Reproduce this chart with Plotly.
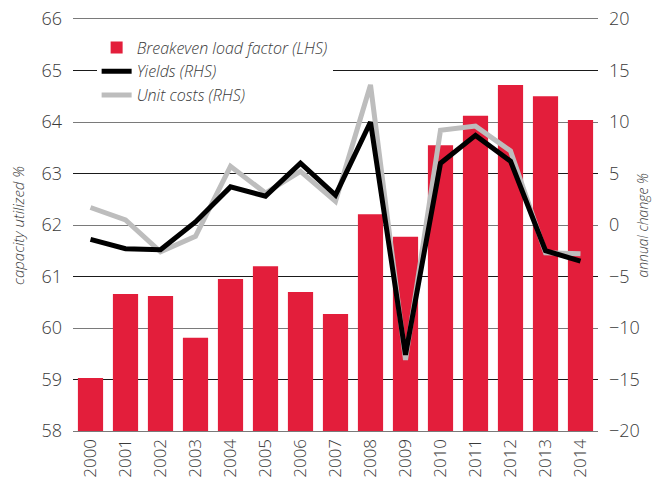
import plotly.graph_objects as go

years = [str(y) for y in range(2000, 2015)]
breakeven_lf = [59.03, 60.66, 60.62, 59.81, 60.95, 61.20, 60.70, 60.27,
                62.21, 61.77, 63.55, 64.12, 64.72, 64.50, 64.04]
yields = [-1.4, -2.3, -2.4, 0.3, 3.7, 2.8, 6.0, 2.9,
          10.0, -12.6, 6.0, 8.7, 6.2, -2.5, -3.5]
unit_costs = [1.7, 0.5, -2.6, -1.1, 5.7, 3.1, 5.2, 2.3,
              13.6, -13.1, 9.2, 9.6, 7.2, -2.7, -2.8]

left_ticks = list(range(58, 67))
right_even_ticks = [-20, -10, 0, 10, 20]
right_odd_ticks = [-15, -5, 5, 15]

FONT = "Open Sans"
TXT = "#3a3a3a"
TICKFONT = dict(size=18, color=TXT, family=FONT, weight=300)
GRAY_GRID = "#7a7a7a"

fig = go.Figure()
fig.add_trace(go.Bar(
    x=years, y=breakeven_lf, name="Breakeven load factor (LHS)",
    marker=dict(color="#E31E3B", line=dict(width=0)),
    width=0.72, yaxis="y", legendrank=1,
))
fig.add_trace(go.Scatter(
    x=years, y=unit_costs, name="Unit costs (RHS)", mode="lines",
    line=dict(color="#BDBDBD", width=5), yaxis="y2", legendrank=3,
))
fig.add_trace(go.Scatter(
    x=years, y=yields, name="Yields (RHS)", mode="lines",
    line=dict(color="#000000", width=5), yaxis="y4", legendrank=2,
))

fig.update_layout(
    width=654, height=489,
    margin=dict(l=73, r=56, t=19, b=58),
    paper_bgcolor="white", plot_bgcolor="white",
    font=dict(family=FONT, color=TXT),
    showlegend=True,
    legend=dict(
        x=0.045, y=0.972, xanchor="left", yanchor="top",
        bgcolor="white", borderwidth=0,
        font=dict(size=16, family=FONT, color=TXT, style="italic", weight=300),
        tracegroupgap=0, itemwidth=30,
    ),
    xaxis=dict(
        type="category", tickangle=-90, showgrid=False,
        showline=True, mirror=True, linecolor=GRAY_GRID, linewidth=1.3,
        ticks="", tickfont=dict(size=17, color=TXT, family=FONT, weight=300),
        range=[-0.5, 14.5], automargin=False,
    ),
    yaxis=dict(
        range=[58, 66], tickvals=left_ticks, showgrid=False,
        zeroline=False, showline=False, ticks="",
        tickfont=TICKFONT, ticklabelstandoff=10, automargin=False,
    ),
    yaxis2=dict(
        range=[-20, 20], tickvals=right_even_ticks, overlaying="y", side="right",
        showgrid=True, gridcolor=GRAY_GRID, gridwidth=1.3,
        zeroline=False, showline=False, ticks="",
        tickfont=TICKFONT, ticklabelstandoff=10, automargin=False,
    ),
    yaxis4=dict(
        range=[-20, 20], tickvals=right_odd_ticks, overlaying="y", side="right",
        showgrid=True, gridcolor="#1a1a1a", gridwidth=1.2,
        zeroline=False, showline=False, ticks="",
        tickfont=TICKFONT, ticklabelstandoff=10, automargin=False,
    ),
    annotations=[
        dict(text="capacity utilized %", xref="paper", yref="paper",
             x=-0.105, y=0.5, xanchor="center", yanchor="middle",
             textangle=-90, showarrow=False,
             font=dict(size=15, style="italic", color=TXT, family=FONT, weight=300)),
        dict(text="annual change %", xref="paper", yref="paper",
             x=1.083, y=0.5, xanchor="center", yanchor="middle",
             textangle=-90, showarrow=False,
             font=dict(size=14, style="italic", color=TXT, family=FONT, weight=300)),
    ],
)

fig.write_html(
    "out.html",
    config={"displayModeBar": False},
    post_script="document.body.style.margin='0';document.body.style.padding='0';",
)
